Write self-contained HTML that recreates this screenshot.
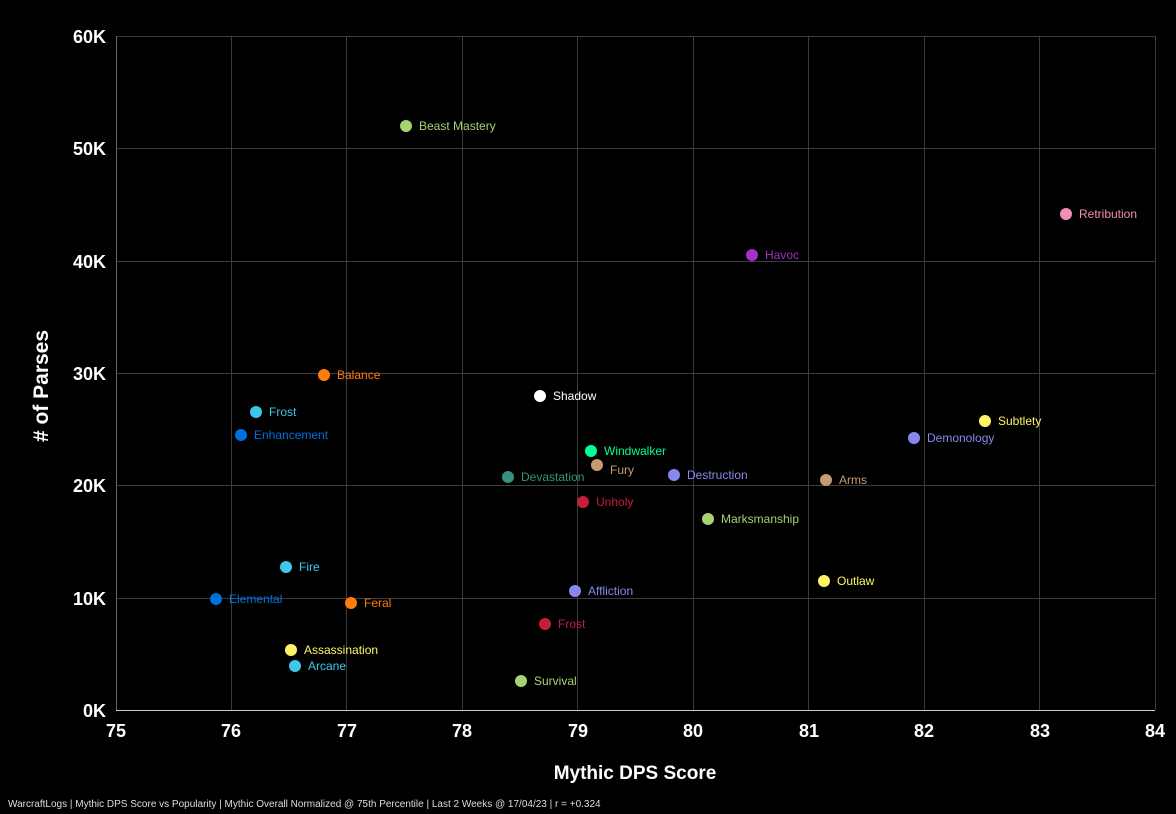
<!DOCTYPE html>
<html><head><meta charset="utf-8"><style>
html,body{margin:0;padding:0;background:#000;}
svg{display:block;}
</style></head><body>
<svg width="1176" height="814" viewBox="0 0 1176 814" xmlns="http://www.w3.org/2000/svg" font-family="Liberation Sans, sans-serif">
<rect width="1176" height="814" fill="#000"/>
<g stroke="#3c3c3c" stroke-width="1">
<line x1="116" y1="36.5" x2="1155" y2="36.5"/>
<line x1="116" y1="148.5" x2="1155" y2="148.5"/>
<line x1="116" y1="261.5" x2="1155" y2="261.5"/>
<line x1="116" y1="373.5" x2="1155" y2="373.5"/>
<line x1="116" y1="485.5" x2="1155" y2="485.5"/>
<line x1="116" y1="598.5" x2="1155" y2="598.5"/>
<line x1="231.5" y1="36" x2="231.5" y2="710"/>
<line x1="346.5" y1="36" x2="346.5" y2="710"/>
<line x1="462.5" y1="36" x2="462.5" y2="710"/>
<line x1="577.5" y1="36" x2="577.5" y2="710"/>
<line x1="693.5" y1="36" x2="693.5" y2="710"/>
<line x1="808.5" y1="36" x2="808.5" y2="710"/>
<line x1="924.5" y1="36" x2="924.5" y2="710"/>
<line x1="1039.5" y1="36" x2="1039.5" y2="710"/>
<line x1="1155.5" y1="36" x2="1155.5" y2="710"/>
</g>
<line x1="116.5" y1="36" x2="116.5" y2="710" stroke="#666"/>
<line x1="116" y1="710.5" x2="1155" y2="710.5" stroke="#ccc"/>
<g fill="#fff" font-weight="bold" font-size="18" text-anchor="end">
<text x="106" y="43">60K</text>
<text x="106" y="155">50K</text>
<text x="106" y="268">40K</text>
<text x="106" y="380">30K</text>
<text x="106" y="492">20K</text>
<text x="106" y="605">10K</text>
<text x="106" y="717">0K</text>
</g>
<g fill="#fff" font-weight="bold" font-size="18" text-anchor="middle">
<text x="116" y="737">75</text>
<text x="231" y="737">76</text>
<text x="347" y="737">77</text>
<text x="462" y="737">78</text>
<text x="578" y="737">79</text>
<text x="693" y="737">80</text>
<text x="809" y="737">81</text>
<text x="924" y="737">82</text>
<text x="1040" y="737">83</text>
<text x="1155" y="737">84</text>
</g>
<text x="635" y="779" fill="#fff" font-weight="bold" font-size="19" text-anchor="middle">Mythic DPS Score</text>
<text transform="translate(48,386) rotate(-90)" fill="#fff" font-weight="bold" font-size="21" text-anchor="middle"># of Parses</text>
<text x="8" y="807" fill="#ddd" font-size="10">WarcraftLogs | Mythic DPS Score vs Popularity | Mythic Overall Normalized @ 75th Percentile | Last 2 Weeks @ 17/04/23 | r = +0.324</text>
<g font-size="12">
<g fill="#a9d271"><circle cx="406" cy="126" r="6"/><text x="419" y="130">Beast Mastery</text></g>
<g fill="#f48cba"><circle cx="1066" cy="214" r="6"/><text x="1079" y="218">Retribution</text></g>
<g fill="#a330c9"><circle cx="752" cy="255" r="6"/><text x="765" y="259">Havoc</text></g>
<g fill="#ff7c0a"><circle cx="324" cy="375" r="6"/><text x="337" y="379">Balance</text></g>
<g fill="#ffffff"><circle cx="540" cy="396" r="6"/><text x="553" y="400">Shadow</text></g>
<g fill="#3fc7eb"><circle cx="256" cy="412" r="6"/><text x="269" y="416">Frost</text></g>
<g fill="#fff468"><circle cx="985" cy="421" r="6"/><text x="998" y="425">Subtlety</text></g>
<g fill="#0070dd"><circle cx="241" cy="435" r="6"/><text x="254" y="439">Enhancement</text></g>
<g fill="#8788ee"><circle cx="914" cy="438" r="6"/><text x="927" y="442">Demonology</text></g>
<g fill="#00ff98"><circle cx="591" cy="451" r="6"/><text x="604" y="455">Windwalker</text></g>
<g fill="#c69b6d"><circle cx="597" cy="465" r="6"/><text x="610" y="474">Fury</text></g>
<g fill="#33937f"><circle cx="508" cy="477" r="6"/><text x="521" y="481">Devastation</text></g>
<g fill="#8788ee"><circle cx="674" cy="475" r="6"/><text x="687" y="479">Destruction</text></g>
<g fill="#c69b6d"><circle cx="826" cy="480" r="6"/><text x="839" y="484">Arms</text></g>
<g fill="#c41e3a"><circle cx="583" cy="502" r="6"/><text x="596" y="506">Unholy</text></g>
<g fill="#a9d271"><circle cx="708" cy="519" r="6"/><text x="721" y="523">Marksmanship</text></g>
<g fill="#3fc7eb"><circle cx="286" cy="567" r="6"/><text x="299" y="571">Fire</text></g>
<g fill="#fff468"><circle cx="824" cy="581" r="6"/><text x="837" y="585">Outlaw</text></g>
<g fill="#8788ee"><circle cx="575" cy="591" r="6"/><text x="588" y="595">Affliction</text></g>
<g fill="#0070dd"><circle cx="216" cy="599" r="6"/><text x="229" y="603">Elemental</text></g>
<g fill="#ff7c0a"><circle cx="351" cy="603" r="6"/><text x="364" y="607">Feral</text></g>
<g fill="#c41e3a"><circle cx="545" cy="624" r="6"/><text x="558" y="628">Frost</text></g>
<g fill="#fff468"><circle cx="291" cy="650" r="6"/><text x="304" y="654">Assassination</text></g>
<g fill="#3fc7eb"><circle cx="295" cy="666" r="6"/><text x="308" y="670">Arcane</text></g>
<g fill="#a9d271"><circle cx="521" cy="681" r="6"/><text x="534" y="685">Survival</text></g>
</g>
</svg>
</body></html>
